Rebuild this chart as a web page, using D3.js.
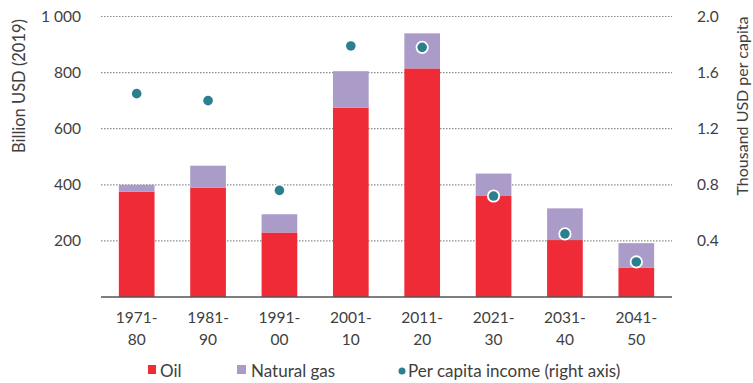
<!DOCTYPE html>
<html><head><meta charset="utf-8">
<script src="https://cdn.jsdelivr.net/npm/d3@7"></script>
<style>body{margin:0;background:#fff;} svg{display:block;font-family:Lato,"Open Sans",sans-serif;}</style>
</head><body><svg id="c" width="753" height="383"></svg>
<script>
const categories = [["1971-","80"],["1981-","90"],["1991-","00"],["2001-","10"],["2011-","20"],["2021-","30"],["2031-","40"],["2041-","50"]];
const oil = [375, 390, 230, 675, 815, 360, 203, 105];
const gas = [25, 78, 65, 130, 125, 80, 113, 87];
const income = [1.45, 1.40, 0.76, 1.79, 1.78, 0.72, 0.45, 0.25];
const leftTicks = [200, 400, 600, 800, 1000];
const rightTicks = [0.4, 0.8, 1.2, 1.6, 2.0];

const svg = d3.select("#c");
const x0 = 101, x1 = 672, yTop = 16.5, yBot = 297;
const keys = categories.map(c => c.join(""));
const x = d3.scaleBand().domain(keys).range([x0, x1]).paddingInner(0.5).paddingOuter(0.25);
const y = d3.scaleLinear().domain([0, 1000]).range([yBot, yTop]);
const y2 = d3.scaleLinear().domain([0, 2.0]).range([yBot, yTop]);

// gridlines
svg.append("g").selectAll("line").data(leftTicks).join("line")
  .attr("x1", x0).attr("x2", x1).attr("y1", d => y(d)).attr("y2", d => y(d))
  .attr("stroke", "#8a8a8a").attr("stroke-width", 1.2).attr("stroke-dasharray", "1.5,1.5");

// bars
const data = keys.map((k, i) => ({k, oil: oil[i], gas: gas[i], inc: income[i]}));
const stack = d3.stack().keys(["oil", "gas"])(data);
const colors = {oil: "#ee2b36", gas: "#ab9bc9"};
svg.append("g").selectAll("g").data(stack).join("g").attr("fill", s => colors[s.key])
  .selectAll("rect").data(s => s).join("rect")
  .attr("x", d => x(d.data.k)).attr("width", x.bandwidth())
  .attr("y", d => y(d[1])).attr("height", d => y(d[0]) - y(d[1]));

// baseline
svg.append("line").attr("x1", x0).attr("x2", x1).attr("y1", yBot).attr("y2", yBot)
  .attr("stroke", "#555").attr("stroke-width", 1.5);

// dots
svg.append("g").selectAll("circle").data(data).join("circle")
  .attr("cx", d => x(d.k) + x.bandwidth() / 2).attr("cy", d => y2(d.inc)).attr("r", 4.8)
  .attr("fill", "#2b7f8e").attr("stroke", "#fff").attr("stroke-width", 3.6)
  .style("paint-order", "stroke");

// left axis
const la = svg.append("g").attr("transform", `translate(${x0 - 17},0)`)
  .call(d3.axisLeft(y).tickValues(leftTicks).tickSize(0).tickFormat(d => d >= 1000 ? "1 000" : d));
la.select(".domain").remove();
la.selectAll("text").attr("font-size", 15.5).attr("fill", "#404040").attr("font-family", "Lato,'Open Sans',sans-serif");

// right axis
const ra = svg.append("g").attr("transform", `translate(${x1 + 22},0)`)
  .call(d3.axisRight(y2).tickValues(rightTicks).tickSize(0).tickFormat(d3.format(".1f")));
ra.select(".domain").remove();
ra.selectAll("text").attr("font-size", 15.5).attr("fill", "#404040").attr("font-family", "Lato,'Open Sans',sans-serif");

// category labels
const cl = svg.append("g").selectAll("text").data(categories).join("text")
  .attr("text-anchor", "middle").attr("font-size", 15.5).attr("fill", "#404040");
cl.each(function(c, i) {
  const cx = x(keys[i]) + x.bandwidth() / 2;
  d3.select(this).append("tspan").attr("x", cx).attr("y", 323).text(c[0]);
  d3.select(this).append("tspan").attr("x", cx).attr("y", 345).text(c[1]);
});

// axis titles
svg.append("text").attr("transform", "translate(25,86) rotate(-90)").attr("text-anchor", "middle")
  .attr("font-size", 16.5).attr("fill", "#404040").text("Billion USD (2019)");
svg.append("text").attr("transform", "translate(748,106) rotate(-90)").attr("text-anchor", "middle")
  .attr("font-size", 16).attr("fill", "#404040").text("Thousand USD per capita");

// legend
const lg = svg.append("g").attr("font-size", 17).attr("fill", "#404040");
lg.append("rect").attr("x", 148).attr("y", 365).attr("width", 8).attr("height", 9).attr("fill", colors.oil);
lg.append("text").attr("x", 160).attr("y", 377).text("Oil");
lg.append("rect").attr("x", 237).attr("y", 365).attr("width", 9).attr("height", 9).attr("fill", colors.gas);
lg.append("text").attr("x", 251).attr("y", 377).text("Natural gas");
lg.append("circle").attr("cx", 402).attr("cy", 371).attr("r", 3.5).attr("fill", "#2b7f8e");
lg.append("text").attr("x", 408).attr("y", 377).text("Per capita income (right axis)");
</script></body></html>
